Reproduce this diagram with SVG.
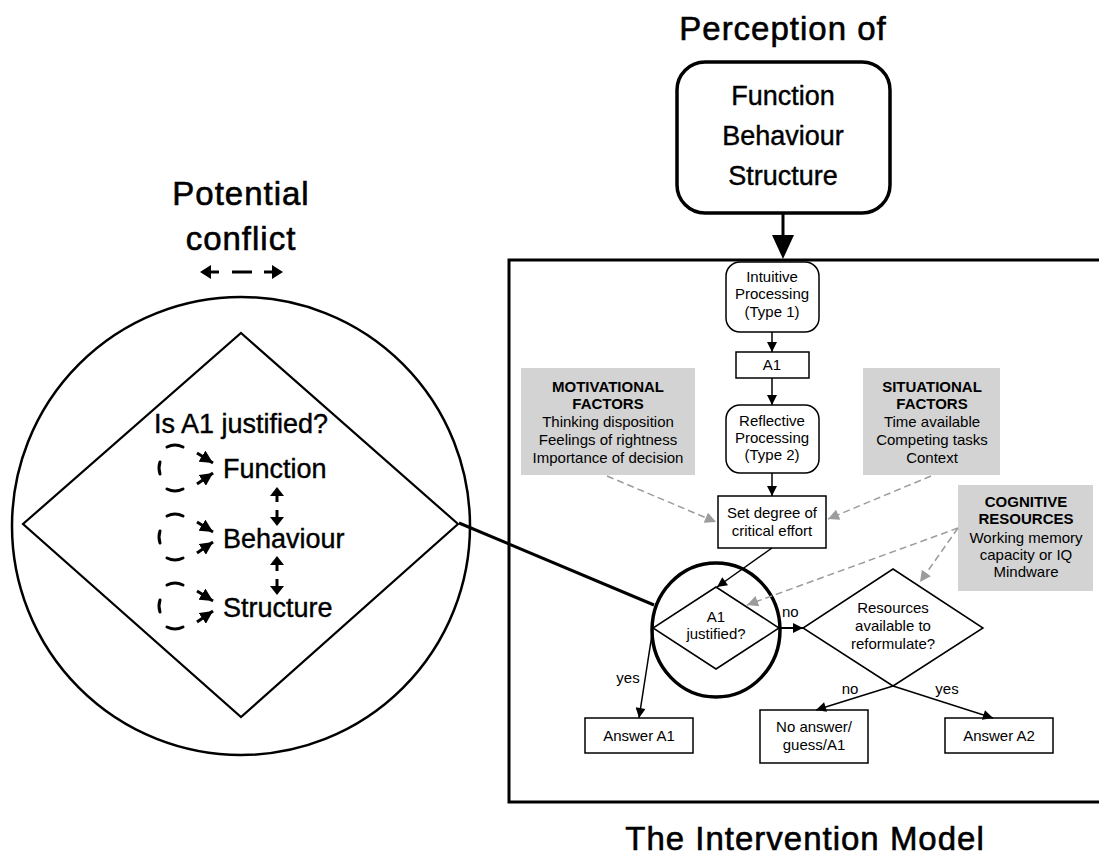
<svg xmlns="http://www.w3.org/2000/svg" width="1099" height="855" viewBox="0 0 1099 855">
<defs>
<style>
text{font-family:"Liberation Sans",Arial,sans-serif;fill:#000}
.title{font-size:33px;text-anchor:middle;letter-spacing:1px;stroke:#000;stroke-width:0.6px}
.big{font-size:27px;stroke:#000;stroke-width:0.4px}
.mid{text-anchor:middle}
.sm{font-size:15px;text-anchor:middle}
.b{font-weight:bold}
.box{fill:#fff;stroke:#000;stroke-width:1.5}
.grey{fill:#d3d3d3}
.thin{fill:none;stroke:#000;stroke-width:1.5}
.gd{fill:none;stroke:#9c9c9c;stroke-width:1.5;stroke-dasharray:7 4}
.thick{fill:none;stroke:#000;stroke-width:3}
.loop{fill:none;stroke:#000;stroke-width:3;stroke-linecap:round}
</style>
<marker id="a" viewBox="0 0 10 10" refX="10" refY="5" markerWidth="11" markerHeight="10" markerUnits="userSpaceOnUse" orient="auto"><path d="M0,0 L10,5 L0,10 z" fill="#000"/></marker>
<marker id="ga" viewBox="0 0 10 10" refX="10" refY="5" markerWidth="12" markerHeight="11" markerUnits="userSpaceOnUse" orient="auto"><path d="M0,0 L10,5 L0,10 z" fill="#9c9c9c"/></marker>
<marker id="la" viewBox="0 0 10 10" refX="10" refY="5" markerWidth="13" markerHeight="13" markerUnits="userSpaceOnUse" orient="auto"><path d="M0,0 L10,5 L0,10 z" fill="#000"/></marker>
</defs>
<rect width="1099" height="855" fill="#fff"/>

<!-- titles -->
<g id="titles">
<text x="241" y="205" class="title">Potential</text>
<text x="241" y="250" class="title">conflict</text>
<text x="783" y="40" class="title">Perception of</text>
<text x="805" y="850" class="title">The Intervention Model</text>
</g>

<!-- dashed two-way arrow under the conflict title -->
<g id="conflict-arrow">
<polygon points="200,272 211,265 211,279"/>
<line x1="210" y1="272" x2="219" y2="272" stroke="#000" stroke-width="3"/>
<line x1="232" y1="272" x2="252" y2="272" stroke="#000" stroke-width="3"/>
<line x1="264" y1="272" x2="273" y2="272" stroke="#000" stroke-width="3"/>
<polygon points="283,272 272,265 272,279"/>
</g>

<!-- magnified decision -->
<g id="lens">
<circle cx="241" cy="526" r="229" fill="none" stroke="#000" stroke-width="2.5"/>
<polygon points="241,333 458,524 241,717 23,524" fill="none" stroke="#000" stroke-width="2.2"/>
<text x="241" y="433" class="big mid">Is A1 justified?</text>
<text x="223" y="478" class="big">Function</text>
<text x="223" y="548" class="big">Behaviour</text>
<text x="223" y="617" class="big">Structure</text>
<!-- self loops -->
<g id="loop-function" transform="translate(0,468)">
<path class="loop" d="M167,-21 Q175,-25 183,-21"/>
<path class="loop" d="M160,-6 Q158,0 160,6"/>
<path class="loop" d="M167,21 Q175,25 183,21"/>
<line x1="197" y1="-15" x2="213" y2="-5" stroke="#000" stroke-width="3" marker-end="url(#la)"/>
<line x1="197" y1="16" x2="213" y2="5" stroke="#000" stroke-width="3" marker-end="url(#la)"/>
</g>
<g id="loop-behaviour" transform="translate(0,537)">
<path class="loop" d="M167,-21 Q175,-25 183,-21"/>
<path class="loop" d="M160,-6 Q158,0 160,6"/>
<path class="loop" d="M167,21 Q175,25 183,21"/>
<line x1="197" y1="-15" x2="213" y2="-5" stroke="#000" stroke-width="3" marker-end="url(#la)"/>
<line x1="197" y1="16" x2="213" y2="5" stroke="#000" stroke-width="3" marker-end="url(#la)"/>
</g>
<g id="loop-structure" transform="translate(0,606)">
<path class="loop" d="M167,-21 Q175,-25 183,-21"/>
<path class="loop" d="M160,-6 Q158,0 160,6"/>
<path class="loop" d="M167,21 Q175,25 183,21"/>
<line x1="197" y1="-15" x2="213" y2="-5" stroke="#000" stroke-width="3" marker-end="url(#la)"/>
<line x1="197" y1="16" x2="213" y2="5" stroke="#000" stroke-width="3" marker-end="url(#la)"/>
</g>
<!-- two-way links between levels -->
<g id="level-links">
<polygon points="277,487 270,496 284,496"/>
<line x1="277" y1="495" x2="277" y2="502" stroke="#000" stroke-width="3"/>
<line x1="277" y1="510" x2="277" y2="518" stroke="#000" stroke-width="3"/>
<polygon points="277,526 270,517 284,517"/>
<polygon points="277,556 270,565 284,565"/>
<line x1="277" y1="564" x2="277" y2="571" stroke="#000" stroke-width="3"/>
<line x1="277" y1="579" x2="277" y2="587" stroke="#000" stroke-width="3"/>
<polygon points="277,595 270,586 284,586"/>
</g>
</g>

<!-- FBS input -->
<g id="fbs">
<rect x="677" y="62" width="213" height="151" rx="28" fill="#fff" stroke="#000" stroke-width="3.5"/>
<text x="783" y="105" class="big mid">Function</text>
<text x="783" y="145" class="big mid">Behaviour</text>
<text x="783" y="185" class="big mid">Structure</text>
</g>

<!-- model frame -->
<g id="frame">
<path d="M1102,260 H509 V802 H1102" fill="none" stroke="#000" stroke-width="3"/>
</g>

<g id="type1">
<rect x="726" y="262" width="93" height="70" rx="14" class="box"/>
<text x="772" y="282" class="sm">Intuitive</text>
<text x="772" y="299" class="sm">Processing</text>
<text x="772" y="317" class="sm">(Type 1)</text>
</g>
<g id="a1">
<rect x="736" y="352" width="73" height="26" class="box"/>
<text x="772" y="370" class="sm">A1</text>
</g>
<g id="type2">
<rect x="726" y="405" width="93" height="68" rx="14" class="box"/>
<text x="772" y="426" class="sm">Reflective</text>
<text x="772" y="443" class="sm">Processing</text>
<text x="772" y="460" class="sm">(Type 2)</text>
</g>
<g id="effort">
<rect x="718" y="496" width="108" height="52" class="box"/>
<text x="772" y="518" class="sm">Set degree of</text>
<text x="772" y="536" class="sm">critical effort</text>
</g>
<g id="motivational">
<rect x="521" y="368" width="174" height="107" class="grey"/>
<text x="608" y="392" class="sm b">MOTIVATIONAL</text>
<text x="608" y="409" class="sm b">FACTORS</text>
<text x="608" y="427" class="sm">Thinking disposition</text>
<text x="608" y="445" class="sm">Feelings of rightness</text>
<text x="608" y="463" class="sm">Importance of decision</text>
</g>
<g id="situational">
<rect x="863" y="368" width="137" height="107" class="grey"/>
<text x="932" y="392" class="sm b">SITUATIONAL</text>
<text x="932" y="409" class="sm b">FACTORS</text>
<text x="932" y="427" class="sm">Time available</text>
<text x="932" y="445" class="sm">Competing tasks</text>
<text x="932" y="463" class="sm">Context</text>
</g>
<g id="cognitive">
<rect x="958" y="485" width="135" height="106" class="grey"/>
<text x="1026" y="507" class="sm b">COGNITIVE</text>
<text x="1026" y="524" class="sm b">RESOURCES</text>
<text x="1026" y="543" class="sm">Working memory</text>
<text x="1026" y="560" class="sm">capacity or IQ</text>
<text x="1026" y="577" class="sm">Mindware</text>
</g>
<g id="justified">
<ellipse cx="716" cy="630" rx="64" ry="67" fill="none" stroke="#000" stroke-width="3.5"/>
<polygon points="716,587 779,628 716,669 653,628" class="thin"/>
<text x="716" y="622" class="sm">A1</text>
<text x="716" y="639" class="sm">justified?</text>
</g>
<g id="resources">
<polygon points="893,569 983,628 893,686 803,628" class="thin"/>
<text x="893" y="613" class="sm">Resources</text>
<text x="893" y="631" class="sm">available to</text>
<text x="893" y="649" class="sm">reformulate?</text>
</g>
<g id="answer-a1">
<rect x="585" y="718" width="108" height="35" class="box"/>
<text x="639" y="741" class="sm">Answer A1</text>
</g>
<g id="no-answer">
<rect x="760" y="710" width="108" height="53" class="box"/>
<text x="814" y="732" class="sm">No answer/</text>
<text x="814" y="750" class="sm">guess/A1</text>
</g>
<g id="answer-a2">
<rect x="945" y="718" width="108" height="35" class="box"/>
<text x="999" y="741" class="sm">Answer A2</text>
</g>

<!-- connectors -->
<g id="connectors">
<line x1="783" y1="213" x2="783" y2="236" stroke="#000" stroke-width="3"/>
<polygon points="772,235 794,235 783,259"/>
<line x1="459" y1="523" x2="654" y2="605" stroke="#000" stroke-width="3"/>
<line x1="772" y1="332" x2="772" y2="352" class="thin" marker-end="url(#a)"/>
<line x1="772" y1="378" x2="772" y2="405" class="thin" marker-end="url(#a)"/>
<line x1="772" y1="473" x2="772" y2="496" class="thin" marker-end="url(#a)"/>
<line x1="772" y1="548" x2="717" y2="587" class="thin" marker-end="url(#a)"/>
<line x1="779" y1="628" x2="803" y2="628" fill="none" stroke="#000" stroke-width="2" marker-end="url(#a)"/>
<line x1="653" y1="628" x2="639" y2="718" class="thin" marker-end="url(#a)"/>
<line x1="893" y1="686" x2="816" y2="710" class="thin" marker-end="url(#a)"/>
<line x1="893" y1="686" x2="993" y2="718" class="thin" marker-end="url(#a)"/>
<line x1="607" y1="476" x2="716" y2="522" class="gd" marker-end="url(#ga)"/>
<line x1="931" y1="476" x2="828" y2="519" class="gd" marker-end="url(#ga)"/>
<line x1="958" y1="528" x2="747" y2="605" class="gd" marker-end="url(#ga)"/>
<line x1="958" y1="528" x2="920" y2="582" class="gd" marker-end="url(#ga)"/>
<text x="782" y="617" style="font-size:15px">no</text>
<text x="628" y="683" class="sm">yes</text>
<text x="850" y="694" class="sm">no</text>
<text x="947" y="694" class="sm">yes</text>
</g>
</svg>
